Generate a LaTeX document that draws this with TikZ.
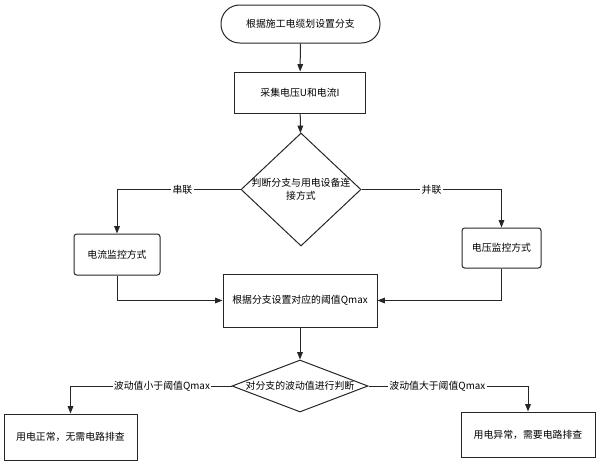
\documentclass[tikz,border=0pt]{standalone}
\usepackage{fontspec}
\setmainfont{Noto Sans CJK SC}
\usepackage{tikz}
\usetikzlibrary{shapes.geometric,arrows.meta}

\begin{document}
\begin{tikzpicture}[x=0.75pt,y=-0.75pt,
        line width=0.75pt,
        every node/.style={font=\fontsize{7.4}{10}\selectfont},
        flow/.style={draw=black!85,-{Triangle[length=5.5pt,width=4.2pt]}},
        box/.style={draw=black!85,rectangle,align=center},
        softbox/.style={box,rounded corners=2pt},
        decision/.style={draw=black!85,diamond,inner sep=0pt},
        tag/.style={fill=white,inner sep=1pt}]
        \useasboundingbox (0,0) rectangle (600,465);

        \node[box,rounded corners=14pt,minimum width=119.25pt,minimum height=28.5pt] (start) at (300.5,24) {根据施工电缆划设置分支};
        \node[box,minimum width=98.25pt,minimum height=30.75pt] (collect) at (300,92.5) {采集电压U和电流I};
        \node[decision,minimum width=90pt,minimum height=84.75pt] (mode) at (301,189.5) {};
        \node[align=center] (modetext) at (mode) {判断分支与用电设备连\\接方式};
        \node[softbox,minimum width=64.5pt,minimum height=30.75pt] (current) at (117,254.5) {电流监控方式};
        \node[softbox,minimum width=59.25pt,minimum height=30pt] (voltage) at (501.5,248) {电压监控方式};
        \node[box,minimum width=115.5pt,minimum height=39.75pt] (qmax) at (300,300.5) {根据分支设置对应的阈值Qmax};
        \node[decision,minimum width=102pt,minimum height=39pt] (wave) at (300,386) {};
        \node (wavetext) at (wave) {对分支的波动值进行判断};
        \node[box,minimum width=99.75pt,minimum height=34.5pt] (normal) at (70.5,437) {用电正常，无需电路排查};
        \node[box,minimum width=100.5pt,minimum height=33.75pt] (fault) at (528,434.5) {用电异常，需要电路排查};

        \draw[flow] (start) -- (collect);
        \draw[flow] (collect) -- (mode);
        \draw[flow] (mode.west) -| node[tag,pos=0.235] {串联} (current.north);
        \draw[flow] (mode.east) -| node[tag,pos=0.25] {并联} (voltage.north);
        \draw[flow] (current.south) |- (qmax.west);
        \draw[flow] (voltage.south) |- (qmax.east);
        \draw[flow] (qmax) -- (wave);
        \draw[flow] (wave.west) -| node[tag,pos=0.216] {波动值小于阈值Qmax} (normal.north);
        \draw[flow] (wave.east) -| node[tag,pos=0.216] {波动值大于阈值Qmax} (fault.north);
\end{tikzpicture}
\end{document}
